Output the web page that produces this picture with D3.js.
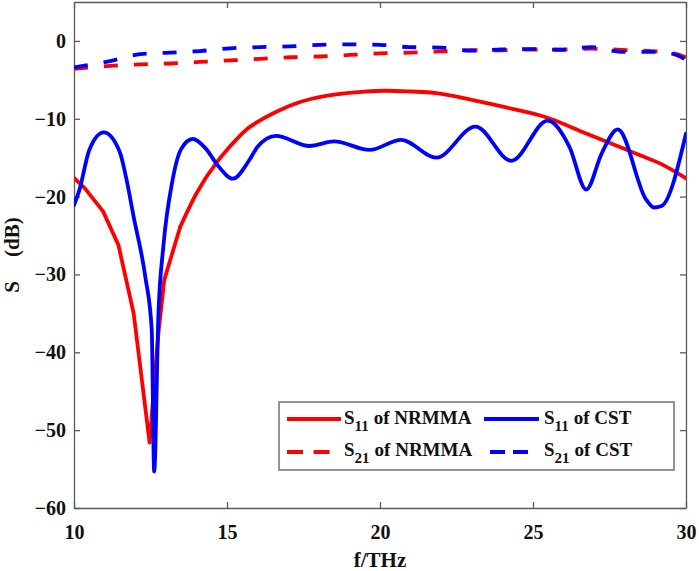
<!DOCTYPE html>
<html>
<head>
<meta charset="utf-8">
<script src="https://cdn.jsdelivr.net/npm/d3@7"></script>
<style>
  body { margin: 0; background: #fff; }
  svg { display: block; }
  .axis text { font-family: "Times New Roman", "Liberation Serif", serif; font-weight: bold; font-size: 20px; fill: #111; }
  .axis path, .axis line { stroke: #5a5a5a; stroke-width: 1.3; }
  .label { font-family: "Times New Roman", "Liberation Serif", serif; font-weight: bold; fill: #111; }
</style>
</head>
<body>
<div id="chart"></div>
<script>
// ---------------- data ----------------
// S11 of NRMMA (red solid)
var s11NrmmaF = [10, 10.35, 10.95, 11.45, 11.95, 12.47, 12.76, 12.95, 13.47, 14.0, 14.7, 15.0, 15.63, 16.0,
                 16.72, 17.2, 17.8, 18.9, 19.5, 20.2, 21.0, 21.84, 22.92, 23.5, 24.01, 25.43, 26.74, 27.94, 28.5, 29.13, 30];
var s11NrmmaS = [-17.6, -18.9, -21.9, -26.2, -35.0, -51.6, -37.5, -30.7, -23.9, -19.6, -15.4, -14.0, -11.4, -10.4,
                 -8.9, -8.1, -7.4, -6.7, -6.5, -6.4, -6.5, -6.7, -7.5, -8.0, -8.45, -9.8, -11.9, -13.8, -14.7, -15.7, -17.65];

// S11 of CST (blue solid)
var s11CstF = [10, 10.18, 10.5, 10.97, 11.49, 11.7, 11.95, 12.33, 12.54, 12.62, 12.76, 12.92, 13.22, 13.5, 13.88,
               14.3, 14.7, 15.19, 15.73, 16.0, 16.6, 17.7, 18.5, 19.66, 20.69, 21.84, 23.12, 24.29, 25.48, 26.19,
               26.74, 27.25, 27.77, 28.7, 28.95, 29.2, 30];
var s11CstS = [-21.1, -19.1, -14.0, -11.75, -14.2, -17.5, -22.6, -30.3, -37.1, -55.3, -35.0, -26.4, -17.9, -13.9, -12.6,
               -13.8, -16.0, -17.7, -15.3, -13.6, -12.2, -13.5, -12.9, -14.0, -12.7, -15.0, -11.0, -15.4, -10.25, -13.6,
               -19.1, -14.4, -11.35, -20.4, -21.4, -21.2, -11.9];

// S21 of NRMMA (red dashed)
var s21NrmmaF = [10, 11.18, 12.16, 13.14, 14.12, 15.1, 16.08, 17.06, 18.04, 19.02, 20, 20.96, 22, 22.98, 23.96,
                 24.94, 25.92, 26.9, 27.88, 28.86, 29.6, 30];
var s21NrmmaS = [-3.6, -3.2, -3.0, -2.9, -2.7, -2.5, -2.3, -2.1, -2.0, -1.8, -1.6, -1.5, -1.35, -1.2, -1.2,
                 -1.1, -1.1, -1.0, -1.15, -1.3, -1.6, -2.1];

// S21 of CST (blue dashed)
var s21CstF = [10, 11.18, 12.16, 13.14, 14.12, 15.1, 16.08, 17.06, 18.04, 19.02, 20, 20.96, 22, 22.98, 23.96,
               24.94, 25.92, 26.9, 27.88, 28.86, 29.5, 30];
var s21CstS = [-3.4, -2.6, -1.7, -1.5, -1.3, -0.95, -0.8, -0.7, -0.5, -0.45, -0.5, -0.8, -0.85, -1.25, -1.1,
               -1.05, -1.15, -0.8, -1.4, -1.4, -1.6, -2.4];

var xTicks = [10, 15, 20, 25, 30];
var yTicks = [-60, -50, -40, -30, -20, -10, 0];

function zip(f, s) { return f.map(function(d, i) { return { f: d, s: s[i] }; }); }

// ---------------- set up ----------------
var W = 699, H = 571;
var margin = { top: 2, right: 13, bottom: 63, left: 74 };
var width = W - margin.left - margin.right,
    height = H - margin.top - margin.bottom;

var svg = d3.select("#chart").append("svg")
    .attr("width", W).attr("height", H);
var g = svg.append("g")
    .attr("transform", "translate(" + margin.left + "," + margin.top + ")");

var x = d3.scaleLinear().domain([10, 30]).range([0, width]);
var y = d3.scaleLinear().domain([-60, 5]).range([height, 0]);

// clip so nothing spills past the box
g.append("defs").append("clipPath").attr("id", "clip")
  .append("rect").attr("width", width).attr("height", height);

// ---------------- axes (ticks inward on all sides) ----------------
g.append("g").attr("class", "axis")
  .attr("transform", "translate(0," + height + ")")
  .call(d3.axisBottom(x).tickValues(xTicks).tickSizeInner(-6).tickSizeOuter(0).tickPadding(17));
g.append("g").attr("class", "axis")
  .call(d3.axisLeft(y).tickValues(yTicks).tickSizeInner(-6).tickSizeOuter(0).tickPadding(8));
g.append("g").attr("class", "axis")
  .call(d3.axisTop(x).tickValues(xTicks).tickSizeInner(-6).tickSizeOuter(0).tickFormat(""));
g.append("g").attr("class", "axis")
  .attr("transform", "translate(" + width + ",0)")
  .call(d3.axisRight(y).tickValues(yTicks).tickSizeInner(-6).tickSizeOuter(0).tickFormat(""));

// ---------------- lines ----------------
var smooth = d3.line().x(function(d) { return x(d.f); }).y(function(d) { return y(d.s); })
    .curve(d3.curveMonotoneX);
var straight = d3.line().x(function(d) { return x(d.f); }).y(function(d) { return y(d.s); });

// red S11: sharp sampled V around the dip, smooth after 13.47 THz
var redS11 = zip(s11NrmmaF, s11NrmmaS);
var cut = s11NrmmaF.indexOf(13.47);

var lines = g.append("g").attr("clip-path", "url(#clip)");
var series = [
  { d: straight(redS11.slice(0, cut + 1)), color: "#ff0000", dash: null },
  { d: smooth(redS11.slice(cut)), color: "#ff0000", dash: null },
  { d: smooth(zip(s11CstF, s11CstS)), color: "#0000ff", dash: null },
  { d: smooth(zip(s21NrmmaF, s21NrmmaS)), color: "#ff0000", dash: "14,16" },
  { d: smooth(zip(s21CstF, s21CstS)), color: "#0000ff", dash: "14,16" }
];
series.forEach(function(s) {
  lines.append("path")
    .attr("d", s.d)
    .attr("fill", "none")
    .attr("stroke", s.color)
    .attr("stroke-width", 3.8)
    .attr("stroke-linejoin", "round")
    .attr("stroke-linecap", s.dash ? "butt" : "round")
    .attr("stroke-dasharray", s.dash);
});

// ---------------- axis labels ----------------
svg.append("text").attr("class", "label")
  .attr("x", margin.left + width / 2).attr("y", 567)
  .style("font-size", "21px").style("text-anchor", "middle")
  .text("f/THz");

var yl = svg.append("text").attr("class", "label")
  .attr("transform", "translate(19," + (margin.top + height / 2) + ") rotate(-90)")
  .style("font-size", "21px").style("text-anchor", "middle");
yl.append("tspan").text("S");
yl.append("tspan").attr("dx", 24).text("(dB)");

// ---------------- legend ----------------
var legend = svg.append("g").attr("class", "legend");
legend.append("rect")
  .attr("x", 279).attr("y", 402).attr("width", 395).attr("height", 68)
  .attr("fill", "#fff").attr("stroke", "#5a5a5a").attr("stroke-width", 1.3);

var items = [
  { sub: "11", name: "of NRMMA", color: "#ff0000", dash: null, x1: 287, x2: 341, tx: 344, ly: 419, ty: 424 },
  { sub: "11", name: "of CST",   color: "#0000ff", dash: null, x1: 484, x2: 539, tx: 544, ly: 419, ty: 424 },
  { sub: "21", name: "of NRMMA", color: "#ff0000", dash: "16,10.6", x1: 287, x2: 330, tx: 344, ly: 452, ty: 456 },
  { sub: "21", name: "of CST",   color: "#0000ff", dash: "15,8", x1: 490, x2: 528, tx: 544, ly: 452, ty: 456 }
];
items.forEach(function(it) {
  legend.append("line")
    .attr("x1", it.x1).attr("x2", it.x2).attr("y1", it.ly).attr("y2", it.ly)
    .attr("stroke", it.color).attr("stroke-width", 3.8)
    .attr("stroke-dasharray", it.dash);
  var t = legend.append("text").attr("class", "label")
    .attr("x", it.tx).attr("y", it.ty).style("font-size", "19px");
  t.append("tspan").text("S");
  t.append("tspan").attr("dy", 7).style("font-size", "15px").text(it.sub);
  t.append("tspan").attr("dy", -7).attr("dx", 5).text(it.name);
});
</script>
</body>
</html>
